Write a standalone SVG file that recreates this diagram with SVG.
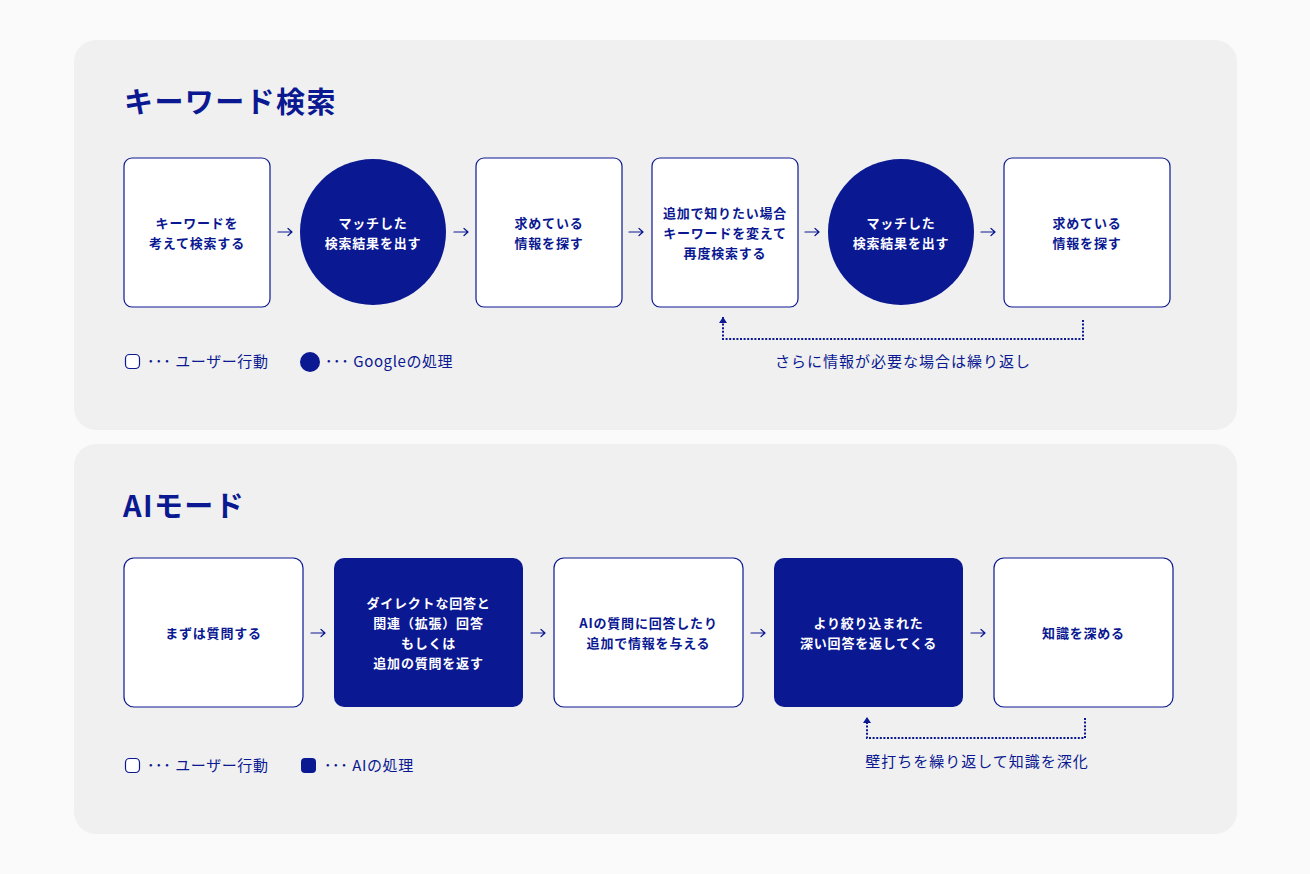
<svg xmlns="http://www.w3.org/2000/svg" width="1310" height="874" viewBox="0 0 1310 874">
<defs>
<style>
text{font-family:"Noto Sans CJK JP","Noto Sans",sans-serif;}
.panel{fill:#f0f0f0;}
.h{font-size:29px;font-weight:700;fill:#0a1891;letter-spacing:1.4px;}
.u{fill:#ffffff;stroke:#0a1891;stroke-width:1.2;}
.a{fill:#0a1891;}
.tu{font-size:13px;font-weight:700;fill:#0a1891;text-anchor:middle;letter-spacing:0.8px;}
.ta{font-size:13px;font-weight:700;fill:#ffffff;text-anchor:middle;letter-spacing:0.8px;}
.lg{font-size:15px;fill:#0a1891;letter-spacing:0.6px;}
.lb{font-size:15px;fill:#0a1891;text-anchor:middle;letter-spacing:1px;}
.arr{fill:none;stroke:#0a1891;stroke-width:1.2;stroke-linecap:round;stroke-linejoin:round;}
.dot{fill:none;stroke:#0a1891;stroke-width:2;stroke-dasharray:2 1.6;}
</style>
<marker id="tip" viewBox="0 0 6 8" refX="6" refY="4" markerWidth="6" markerHeight="8" markerUnits="userSpaceOnUse" orient="auto">
<path d="M0,0 L6,4 L0,8 Z" fill="#0a1891"/>
</marker>
</defs>
<rect width="1310" height="874" fill="#fafafa"/>
<rect class="panel" x="74" y="40" width="1163" height="390" rx="22"/>
<rect class="panel" x="74" y="444" width="1163" height="390" rx="22"/>

<text class="h" x="124" y="113">キーワード検索</text>
<text class="h" x="123" y="517">AIモード</text>

<g id="k1"><rect class="u" x="124" y="158" width="146" height="149" rx="8"/>
<text class="tu" x="197" y="228">キーワードを</text><text class="tu" x="197" y="248">考えて検索する</text></g>
<g id="k2"><circle class="a" cx="373" cy="232" r="73"/>
<text class="ta" x="373" y="228">マッチした</text><text class="ta" x="373" y="248">検索結果を出す</text></g>
<g id="k3"><rect class="u" x="476" y="158" width="146" height="149" rx="8"/>
<text class="tu" x="549" y="228">求めている</text><text class="tu" x="549" y="248">情報を探す</text></g>
<g id="k4"><rect class="u" x="652" y="158" width="146" height="149" rx="8"/>
<text class="tu" x="725" y="218">追加で知りたい場合</text><text class="tu" x="725" y="238">キーワードを変えて</text><text class="tu" x="725" y="258">再度検索する</text></g>
<g id="k5"><circle class="a" cx="901" cy="232" r="73"/>
<text class="ta" x="901" y="228">マッチした</text><text class="ta" x="901" y="248">検索結果を出す</text></g>
<g id="k6"><rect class="u" x="1004" y="158" width="166" height="149" rx="8"/>
<text class="tu" x="1087" y="228">求めている</text><text class="tu" x="1087" y="248">情報を探す</text></g>

<g id="legend1">
<rect class="u" x="125.5" y="354.5" width="14" height="14" rx="4"/>
<text class="lg" x="147" y="367">･･･ ユーザー行動</text>
<circle class="a" cx="310" cy="362" r="10"/>
<text class="lg" x="325" y="367">･･･ Googleの処理</text>
</g>
<text class="lb" x="903" y="367">さらに情報が必要な場合は繰り返し</text>

<g id="m1"><rect class="u" x="124" y="558" width="179" height="149" rx="10"/>
<text class="tu" x="213.5" y="638">まずは質問する</text></g>
<g id="m2"><rect class="a" x="334" y="558" width="189" height="149" rx="10"/>
<text class="ta" x="428.5" y="608">ダイレクトな回答と</text><text class="ta" x="428.5" y="628">関連（拡張）回答</text><text class="ta" x="428.5" y="648">もしくは</text><text class="ta" x="428.5" y="668">追加の質問を返す</text></g>
<g id="m3"><rect class="u" x="554" y="558" width="189" height="149" rx="10"/>
<text class="tu" x="648.5" y="628">AIの質問に回答したり</text><text class="tu" x="648.5" y="648">追加で情報を与える</text></g>
<g id="m4"><rect class="a" x="774" y="558" width="189" height="149" rx="10"/>
<text class="ta" x="868.5" y="628">より絞り込まれた</text><text class="ta" x="868.5" y="648">深い回答を返してくる</text></g>
<g id="m5"><rect class="u" x="994" y="558" width="179" height="149" rx="10"/>
<text class="tu" x="1083.5" y="638">知識を深める</text></g>

<g id="legend2">
<rect class="u" x="125.5" y="758.5" width="14" height="14" rx="4"/>
<text class="lg" x="147" y="771">･･･ ユーザー行動</text>
<rect class="a" x="301" y="758" width="15" height="15" rx="4"/>
<text class="lg" x="324" y="771">･･･ AIの処理</text>
</g>
<text class="lb" x="977" y="767">壁打ちを繰り返して知識を深化</text>

<g id="connectors">
<path class="arr" d="M278,232 H292 M288,228.5 L292,232 L288,235.5"/>
<path class="arr" d="M454,232 H468 M464,228.5 L468,232 L464,235.5"/>
<path class="arr" d="M629,232 H643 M639,228.5 L643,232 L639,235.5"/>
<path class="arr" d="M805,232 H819 M815,228.5 L819,232 L815,235.5"/>
<path class="arr" d="M981,232 H995 M991,228.5 L995,232 L991,235.5"/>
<path class="dot" d="M1083,320 V339 H723 V317" marker-end="url(#tip)"/>
<path class="arr" d="M311,633 H325 M321,629.5 L325,633 L321,636.5"/>
<path class="arr" d="M531,633 H545 M541,629.5 L545,633 L541,636.5"/>
<path class="arr" d="M751,633 H765 M761,629.5 L765,633 L761,636.5"/>
<path class="arr" d="M971,633 H985 M981,629.5 L985,633 L981,636.5"/>
<path class="dot" d="M1085,718 V738 H867 V717" marker-end="url(#tip)"/>
</g>
</svg>
